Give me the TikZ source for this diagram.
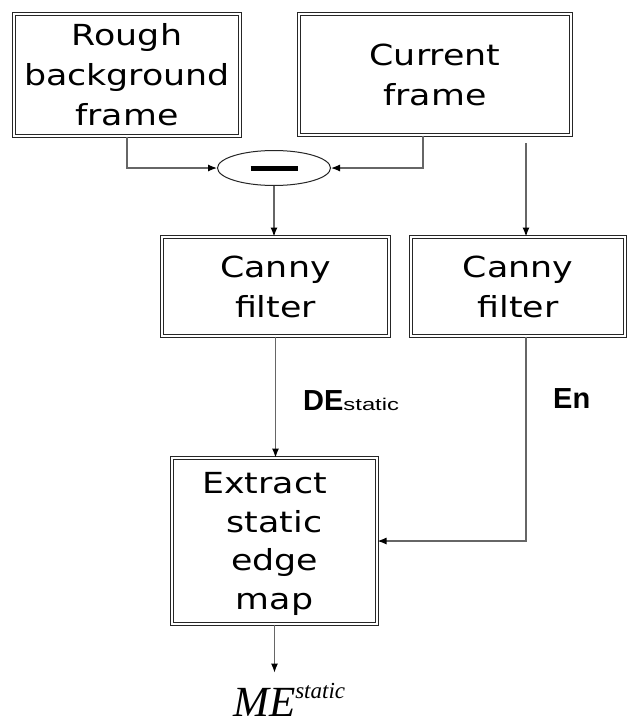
\documentclass[tikz,border=0pt]{standalone}
\usepackage{fontspec}
\usepackage{graphicx}
\usetikzlibrary{shapes.geometric,arrows.meta}
\newfontfamily\boxfont[FakeStretch=1.2]{DejaVu Sans}
\newfontfamily\lblfont{Liberation Sans}
\newfontfamily\mefont{Liberation Serif}
\begin{document}
\begin{tikzpicture}[x=1pt,y=-1pt,
  dbox/.style={draw=black!85, double=white, double distance=2pt, line width=1pt,
    rectangle, inner sep=0pt, align=center,
    font=\boxfont\fontsize{29}{40}\selectfont},
  conn/.style={draw=black!60, line width=1.2pt, -{Latex[length=9pt,width=7pt,black]}},
  lbl/.style={anchor=base west, inner sep=0pt, font=\lblfont\bfseries\fontsize{29}{29}\selectfont},
]
\useasboundingbox[fill=white] (0,0) rectangle (629,726);

\node[dbox, minimum width=226pt, minimum height=122pt] (rough) at (127,75)
  {Rough\\background\\frame};
\node[dbox, minimum width=272pt, minimum height=121pt] (current) at (435,74.5)
  {Current\\frame};
\node[draw=black!85, line width=1pt, ellipse, inner sep=0pt,
  minimum width=113pt, minimum height=35pt] (minus) at (274,168)
  {\rule[-2.5pt]{47pt}{5pt}};
\node[dbox, minimum width=227pt, minimum height=99pt] (cannyL) at (275.5,286.5)
  {Canny\\filter};
\node[dbox, minimum width=214pt, minimum height=99pt] (cannyR) at (518,286.5)
  {Canny\\filter};
\node[dbox, minimum width=205pt, minimum height=166pt, text depth=0pt,
  font=\boxfont\fontsize{29}{38.5}\selectfont] (extract) at (274.5,541)
  {Extract\hspace*{20pt}\\static\\edge\\map};

\node[lbl] (de) at (303,410)
  {DE{\mdseries\fontsize{17}{17}\selectfont\scalebox{1.4}[1]{static}}};
\node[lbl] (en) at (553,408) {En};
\node[anchor=base west, inner sep=0pt,
  font=\mefont\itshape\fontsize{43}{43}\selectfont] (me) at (233,716)
  {ME\raisebox{18pt}{\fontsize{23}{23}\selectfont static}};

\coordinate (cf) at (526,143);
\draw[conn] (rough.south) |- (minus.west);
\draw[conn] ([xshift=-12pt]current.south) |- (minus.east);
\draw[conn] (minus.south) -- (minus.south |- cannyL.north);
\draw[conn] (cf) -- (cf |- cannyR.north);
\draw[conn] (cannyL.south) -- (cannyL.south |- extract.north);
\draw[conn] (cf |- cannyR.south) |- (extract.east);
\draw[conn, shorten >=10pt] (extract.south) -- (extract.south |- me.north);
\end{tikzpicture}
\end{document}
